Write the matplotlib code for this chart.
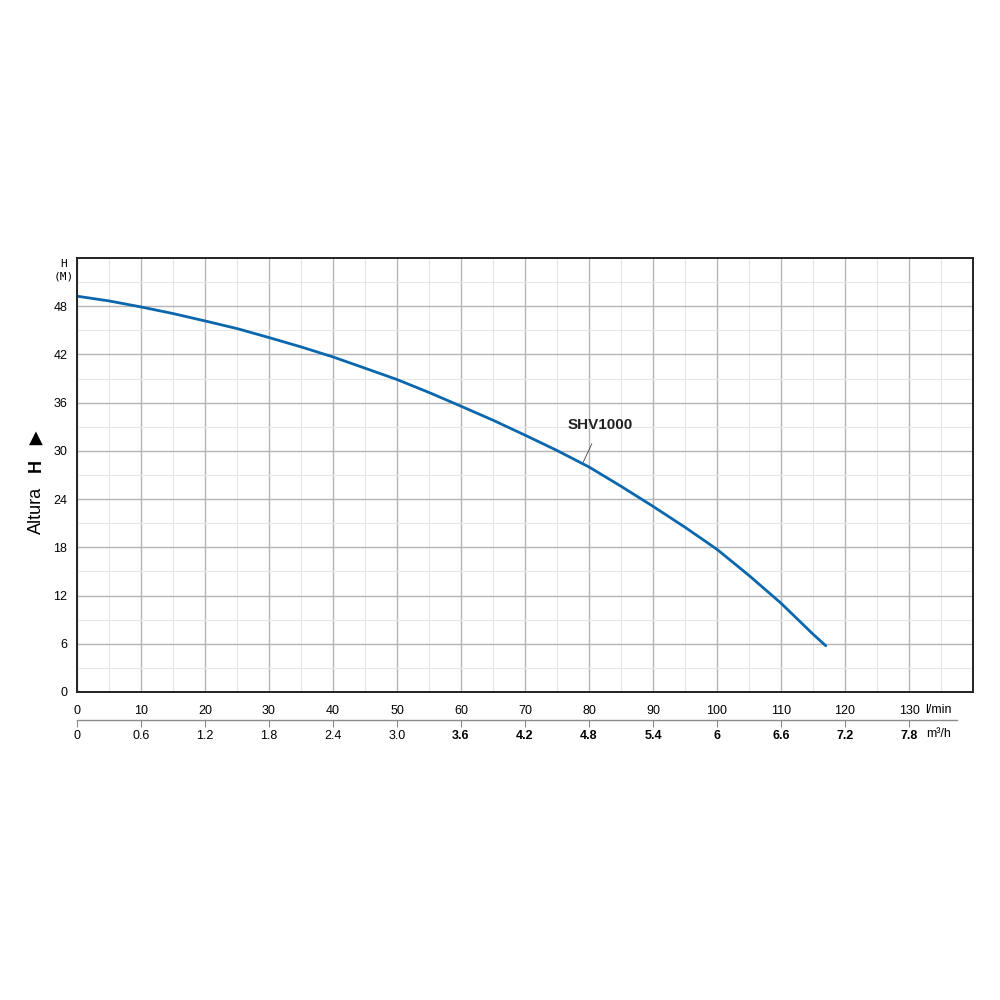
import matplotlib.pyplot as plt
from matplotlib.ticker import MultipleLocator

plt.rcParams['font.family'] = ['Liberation Sans', 'DejaVu Sans']

# pump curve SHV1000, flow in l/min, head in m
flow = [0, 5, 10, 15, 20, 25, 30, 35, 40, 45, 50, 55, 60, 65, 70, 75, 80,
        85, 90, 95, 100, 105, 110, 115, 117]
head = [49.25, 48.66, 47.91, 47.09, 46.17, 45.22, 44.10, 42.94, 41.69, 40.29,
        38.88, 37.27, 35.56, 33.82, 31.96, 30.05, 28.0, 25.6, 23.1, 20.5,
        17.75, 14.5, 11.05, 7.2, 5.75]

y_ticks = [0, 6, 12, 18, 24, 30, 36, 42, 48]
lmin_ticks = [0, 10, 20, 30, 40, 50, 60, 70, 80, 90, 100, 110, 120, 130]
m3h_labels = ['0', '0.6', '1.2', '1.8', '2.4', '3.0', '3.6', '4.2', '4.8', '5.4',
              '6', '6.6', '7.2', '7.8']
m3h_bold = [False, False, False, False, False, False, True, True, True, True,
            True, True, True, True]

fig = plt.figure(figsize=(10, 10), dpi=100)
ax = fig.add_axes([0.077, 0.308, 0.896, 0.434])
ax.set_xlim(0, 140)
ax.set_ylim(0, 54)
ax.xaxis.set_major_locator(MultipleLocator(10))
ax.xaxis.set_minor_locator(MultipleLocator(5))
ax.set_yticks(y_ticks)
ax.yaxis.set_minor_locator(MultipleLocator(3))
ax.grid(which='major', color='#b5b5b5', linewidth=1.0)
ax.grid(which='minor', color='#e6e6e6', linewidth=0.8)
ax.set_axisbelow(True)
ax.tick_params(which='both', length=0)
ax.tick_params(axis='x', labelbottom=False)
ax.tick_params(axis='y', labelsize=9, pad=7)
for s in ax.spines.values():
    s.set_linewidth(1.4)
    s.set_color('#222222')

ax.plot(flow, head, color='#0b67ad', linewidth=2.0, solid_capstyle='round',
        solid_joinstyle='round')
ax.annotate('SHV1000', xy=(79.1, 28.6), xytext=(81.8, 33.2), fontsize=11,
            fontweight='bold', ha='center', va='center', color='#222222',
            arrowprops=dict(arrowstyle='-', color='#444444', lw=0.6,
                            shrinkA=7, shrinkB=0))

fig.text(0.064, 0.741, 'H\n(M)', fontsize=8, ha='center', va='top',
         linespacing=1.3, family='DejaVu Sans Mono')
fig.text(0.036, 0.49, 'Altura', fontsize=13, rotation=90, ha='center', va='center')
fig.text(0.036, 0.534, 'H', fontsize=13, fontweight='bold', rotation=90,
         ha='center', va='center')
fig.text(0.036, 0.562, '\u25B2', fontsize=13, rotation=0, ha='center', va='center',
         family='DejaVu Sans')

# secondary flow scale below the chart
ax2 = fig.add_axes([0.077, 0.28, 0.88, 0.0001])
ax2.set_xlim(0, 137.5)
ax2.set_ylim(0, 1)
for k in ['top', 'left', 'right']:
    ax2.spines[k].set_visible(False)
ax2.spines['bottom'].set_color('#8a8a8a')
ax2.spines['bottom'].set_linewidth(1.0)
ax2.set_yticks([])
ax2.set_xticks(lmin_ticks)
ax2.set_xticklabels(m3h_labels, fontsize=9)
for lab, b in zip(ax2.get_xticklabels(), m3h_bold):
    if b:
        lab.set_fontweight('bold')
ax2.tick_params(axis='x', length=5, color='#8a8a8a', pad=2)
for v in lmin_ticks:
    ax2.annotate(str(v), xy=(v, 0), xycoords=('data', 'axes fraction'),
                 xytext=(0, 2), textcoords='offset points', ha='center',
                 va='bottom', fontsize=9)
ax2.annotate('l/min', xy=(1.0, 0), xycoords='axes fraction', xytext=(-4, 3),
             textcoords='offset points', ha='right', va='bottom', fontsize=9)
ax2.annotate('m\u00b3/h', xy=(1.0, 0), xycoords='axes fraction', xytext=(-4, -10),
             textcoords='offset points', ha='right', va='center', fontsize=9)

fig.savefig('out.png', dpi=100)
